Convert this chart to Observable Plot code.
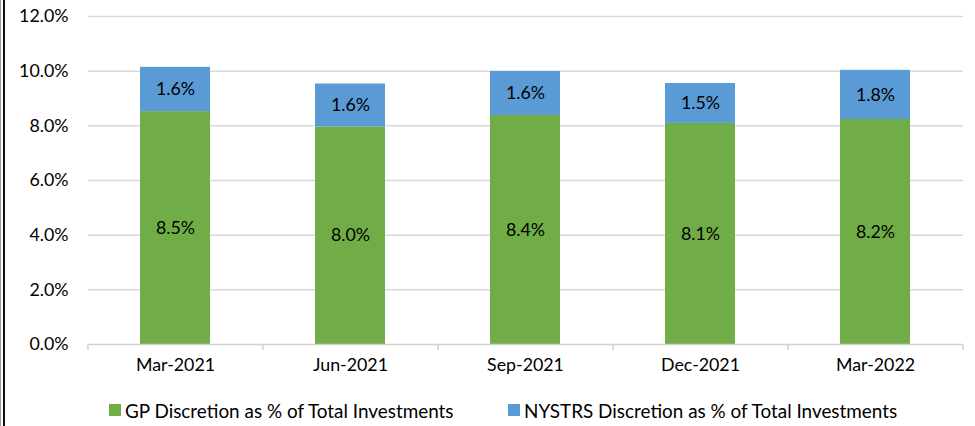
<!DOCTYPE html>
<html>
<head>
<meta charset="utf-8">
<script src="https://cdn.jsdelivr.net/npm/d3@7"></script>
<script src="https://cdn.jsdelivr.net/npm/@observablehq/plot@0.6"></script>
<style>
  html, body { margin: 0; padding: 0; background: #fff; }
  body { width: 975px; height: 426px; position: relative; overflow: hidden; font-family: Lato, "Open Sans", sans-serif; }
  #edge1 { position: absolute; left: 0; top: 0; width: 1px; height: 426px; background: #9a9a9a; }
  #edge2 { position: absolute; left: 3px; top: 0; width: 2px; height: 426px; background: #111; }
  #legend { position: absolute; left: 0; top: 398px; width: 975px; height: 24px; font-size: 18.9px; color: #000; }
  .item { position: absolute; top: 0; display: flex; align-items: center; height: 24px; white-space: nowrap; }
  .sw { width: 12px; height: 12px; margin-right: 4px; display: inline-block; }
</style>
</head>
<body>
<div id="chart"></div>
<div id="legend"></div>
<div id="edge1"></div>
<div id="edge2"></div>
<script>
const categories = ["Mar-2021", "Jun-2021", "Sep-2021", "Dec-2021", "Mar-2022"];
const seriesNames = ["GP Discretion as % of Total Investments", "NYSTRS Discretion as % of Total Investments"];
const gpValues = [8.52, 7.96, 8.38, 8.09, 8.23];
const nystrsValues = [1.62, 1.57, 1.61, 1.46, 1.80];
const gpLabels = ["8.5%", "8.0%", "8.4%", "8.1%", "8.2%"];
const nystrsLabels = ["1.6%", "1.6%", "1.6%", "1.5%", "1.8%"];
const yTicks = [0, 2, 4, 6, 8, 10, 12];
const colors = ["#70AD47", "#5B9BD5"];

const data = [
  ...categories.map((c, i) => ({cat: c, series: seriesNames[0], value: gpValues[i], label: gpLabels[i]})),
  ...categories.map((c, i) => ({cat: c, series: seriesNames[1], value: nystrsValues[i], label: nystrsLabels[i]}))
];

const plot = Plot.plot({
  width: 975,
  height: 385,
  marginLeft: 88,
  marginRight: 12,
  marginTop: 16,
  marginBottom: 41,
  style: {fontFamily: "Lato, 'Open Sans', sans-serif", fontSize: "17.8px", color: "#000", background: "#fff"},
  x: {domain: categories, paddingInner: 0.6, paddingOuter: 0.3, label: null, tickSize: 0, tickPadding: 14},
  y: {domain: [0, 12], ticks: yTicks, tickFormat: d => d.toFixed(1) + "%", label: null, tickSize: 0, tickPadding: 20},
  color: {domain: seriesNames, range: colors},
  marks: [
    Plot.gridY(yTicks.filter(t => t > 0), {stroke: "#d9d9d9", strokeOpacity: 1, strokeWidth: 1.5}),
    Plot.barY(data, Plot.stackY({x: "cat", y: "value", fill: "series", order: null})),
    Plot.text(data, Plot.stackY({x: "cat", y: "value", z: "series", text: "label", fill: "#000", fontSize: 17.8, order: null})),
    Plot.ruleY([0], {stroke: "#d0d0d0", strokeWidth: 1.5})
  ]
});

// category boundary ticks below the baseline, from the x band scale
const xs = plot.scale("x");
const ys = plot.scale("y");
const step = xs.step;
const start = xs.range[0];
const y0 = d3.scaleLinear().domain(ys.domain).range(ys.range)(0);
const svg = d3.select(plot);
d3.range(categories.length + 1).forEach(i => {
  const x = start + i * step;
  svg.append("line").attr("x1", x).attr("x2", x).attr("y1", y0).attr("y2", y0 + 6)
    .attr("stroke", "#d0d0d0").attr("stroke-width", 1.5);
});

document.getElementById("chart").appendChild(plot);

// legend
const legend = document.getElementById("legend");
const legendX = [109, 508];
seriesNames.forEach((s, i) => {
  const item = document.createElement("div");
  item.className = "item";
  item.style.left = legendX[i] + "px";
  const sw = document.createElement("span");
  sw.className = "sw";
  sw.style.background = colors[i];
  item.appendChild(sw);
  item.appendChild(document.createTextNode(s));
  legend.appendChild(item);
});
</script>
</body>
</html>
